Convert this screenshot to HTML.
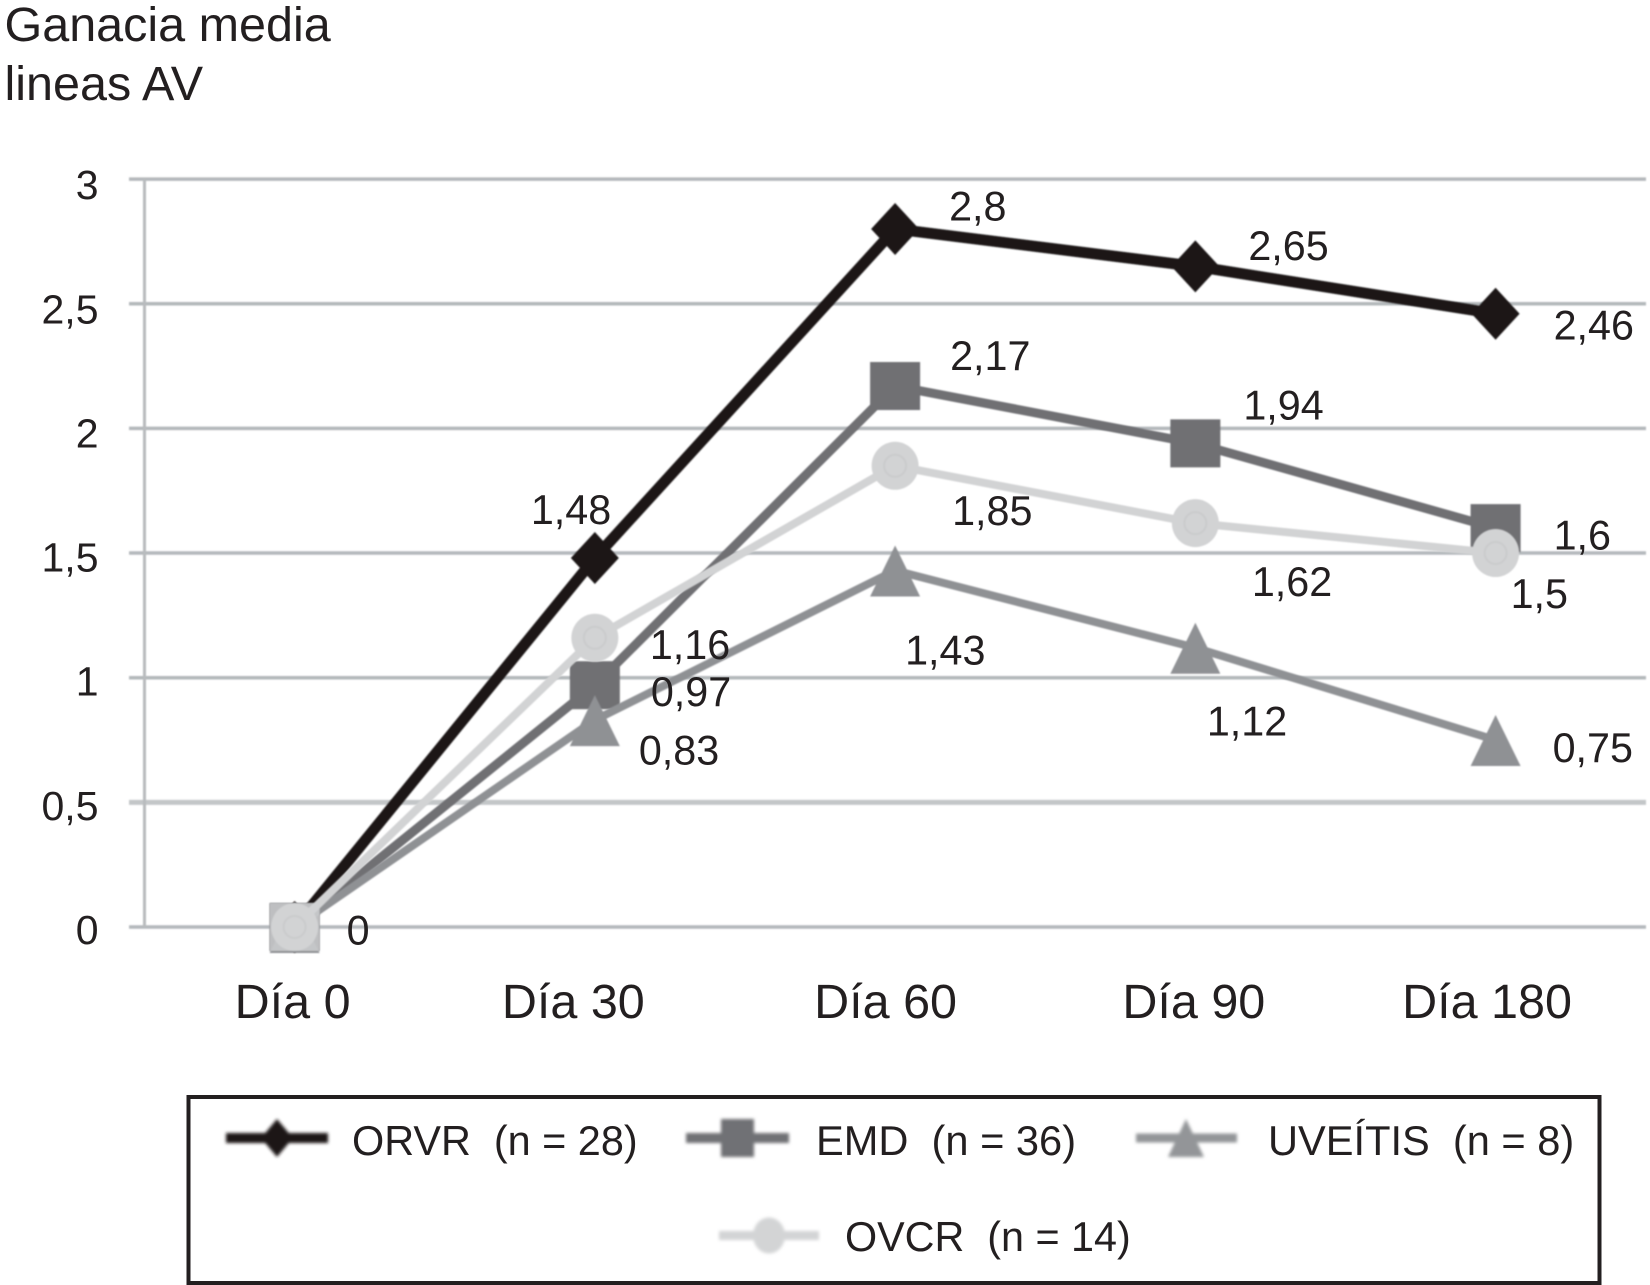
<!DOCTYPE html>
<html lang="es">
<head>
<meta charset="utf-8">
<title>Ganancia media de líneas AV</title>
<style>
  html, body { margin: 0; padding: 0; background: #ffffff; }
  svg { display: block; }
  text { font-family: "Liberation Sans", Arial, sans-serif; fill: #231f20; white-space: pre; }
</style>
</head>
<body>
<svg id="chart" xmlns="http://www.w3.org/2000/svg" width="1650" height="1285" viewBox="0 0 1650 1285">
  <defs>
    <filter id="soft" x="-5%" y="-5%" width="110%" height="110%" filterUnits="objectBoundingBox">
      <feGaussianBlur stdDeviation="0.9"/>
    </filter>
    <filter id="softer" x="-20%" y="-60%" width="140%" height="220%">
      <feGaussianBlur stdDeviation="1.6"/>
    </filter>
  </defs>
  <rect x="0" y="0" width="1650" height="1285" fill="#ffffff"/>
  <g>
    <text x="4.5" y="41" font-size="48.5">Ganacia media</text>
    <text x="4.5" y="100" font-size="48.5">lineas AV</text>
  </g>
  <g id="grid" filter="url(#soft)"></g>
  <g id="yLabels"></g>
  <g id="xLabels"></g>
  <g id="series"></g>
  <g id="values"></g>

  <g>
    <rect x="188.5" y="1097" width="1411" height="186" fill="#ffffff" stroke="#231f20" stroke-width="4"/>

    <g>
      <g filter="url(#softer)">
        <line x1="226" y1="1138" x2="328" y2="1138" stroke="#1a1718" stroke-width="10"/>
        <polygon points="277,1119 293,1138 277,1157 261,1138" fill="#1a1718"/>
      </g>
      <text x="352" y="1155" font-size="41.4">ORVR  (n = 28)</text>
    </g>

    <g>
      <g filter="url(#softer)">
        <line x1="686" y1="1138" x2="789" y2="1138" stroke="#707174" stroke-width="10"/>
        <rect x="721" y="1119" width="33" height="38" fill="#707174"/>
      </g>
      <text x="816" y="1155" font-size="41.6">EMD  (n = 36)</text>
    </g>

    <g>
      <g filter="url(#softer)">
        <line x1="1136" y1="1138" x2="1237" y2="1138" stroke="#939598" stroke-width="9"/>
        <polygon points="1186,1119 1204,1157 1168,1157" fill="#939598"/>
      </g>
      <text x="1268" y="1155" font-size="41.6">UVEÍTIS  (n = 8)</text>
    </g>

    <g>
      <g filter="url(#softer)">
        <line x1="719" y1="1235.5" x2="819" y2="1235.5" stroke="#d3d4d5" stroke-width="9"/>
        <ellipse cx="769" cy="1235.5" rx="16" ry="18" fill="#d3d4d5"/>
      </g>
      <text x="845" y="1251" font-size="41.3">OVCR  (n = 14)</text>
    </g>
  </g>
</svg>

<script>
const categories = ['Día 0', 'Día 30', 'Día 60', 'Día 90', 'Día 180'];
const yTickValues = [0, 0.5, 1, 1.5, 2, 2.5, 3];
const yTickLabels = ['0', '0,5', '1', '1,5', '2', '2,5', '3'];
const orvrValues = [0, 1.48, 2.8, 2.65, 2.46];
const emdValues = [0, 0.97, 2.17, 1.94, 1.6];
const uveitisValues = [0, 0.83, 1.43, 1.12, 0.75];
const ovcrValues = [0, 1.16, 1.85, 1.62, 1.5];

const SVG_NS = 'http://www.w3.org/2000/svg';

function xScale(i) { return 294.6 + 300.25 * i; }
function yScale(v) { return 927 - 249.3 * v; }
function tickLabelY(v) { return 944 - 248.3 * v; }
function valueText(v) { return String(v).replace('.', ','); }

function make(tag, attrs, parent) {
  const el = document.createElementNS(SVG_NS, tag);
  Object.keys(attrs).forEach(function (k) { el.setAttribute(k, attrs[k]); });
  parent.appendChild(el);
  return el;
}

const categoryNudge = [-2, -21.5, -9.5, -1.5, -8.6];

const seriesStyles = [
  { key: 'orvr', values: orvrValues, color: '#1a1718', width: 11, marker: 'diamond',
    labelNudge: [[52, 17.5], [-64, -34], [54, -8.5], [53, -6.5], [58, 26]] },
  { key: 'emd', values: emdValues, color: '#6f7073', width: 9, marker: 'square',
    labelNudge: [null, [56, 21], [55, -16], [48, -24], [58, 21.5]] },
  { key: 'uveitis', values: uveitisValues, color: '#8f9194', width: 8, marker: 'triangle',
    labelNudge: [null, [44, 44.5], [10, 94], [11.5, 87.5], [57, 22]] },
  { key: 'ovcr', values: ovcrValues, color: '#d2d3d4', width: 8, marker: 'circle',
    labelNudge: [null, [55, 21], [57, 59], [56.5, 73], [15, 55]] }
];

const grid = document.getElementById('grid');
yTickValues.forEach(function (v, i) {
  const y = yScale(v);
  const line = make('line', {
    x1: 129, x2: 1646, y1: y, y2: y,
    stroke: v === 0.5 ? '#c3c6c8' : '#b4b8bb',
    'stroke-width': v === 0.5 ? 5 : 3.5
  }, grid);
  
  
  const label = make('text', {
    x: 98.5, y: tickLabelY(v), 'font-size': 41, 'text-anchor': 'end'
  }, document.getElementById('yLabels'));
  label.textContent = yTickLabels[i];
  
  
});

const axisLine = make('line', {
  x1: 144.5, x2: 144.5, y1: yScale(3), y2: yScale(0), stroke: '#b8bbbd', 'stroke-width': 3
}, grid);



categories.forEach(function (c, i) {
  const label = make('text', {
    x: xScale(i) + categoryNudge[i], y: 1018, 'font-size': 48.5, 'text-anchor': 'middle'
  }, document.getElementById('xLabels'));
  label.textContent = c;
  
  
});

function drawMarker(kind, x, y, color, parent) {
  let el;
  if (kind === 'diamond') {
    el = make('polygon', {
      points: [x, y - 26, x + 24, y, x, y + 26, x - 24, y].join(' '), fill: color
    }, parent);
  } else if (kind === 'square') {
    el = make('rect', { x: x - 25, y: y - 24, width: 50, height: 48, fill: color }, parent);
  } else if (kind === 'triangle') {
    el = make('polygon', {
      points: [x, y - 25, x + 25, y + 26, x - 25, y + 26].join(' '), fill: color
    }, parent);
  } else {
    el = make('ellipse', { cx: x, cy: y, rx: 23.5, ry: 24, fill: color }, parent);
    const ring = make('ellipse', {
      cx: x, cy: y, rx: 11, ry: 11, fill: 'none', stroke: '#cacbcc', 'stroke-width': 2
    }, parent);
    
    
  }
  return el;
}

const seriesRoot = document.getElementById('series');
const valuesRoot = document.getElementById('values');

seriesStyles.forEach(function (s) {
  const g = make('g', { filter: 'url(#soft)' }, seriesRoot);
  
  

  const pts = s.values.map(function (v, i) { return xScale(i) + ',' + yScale(v); }).join(' ');
  const line = make('polyline', {
    points: pts, fill: 'none', stroke: s.color, 'stroke-width': s.width, 'stroke-linejoin': 'round'
  }, g);
  
  

  s.values.forEach(function (v, i) {
    const x = xScale(i);
    const y = yScale(v);
    if (s.key === 'ovcr' && i === 0) {
      const wash = make('rect', {
        x: x - 25, y: y - 24, width: 50, height: 48, fill: '#d2d3d4', 'fill-opacity': 0.8
      }, g);
      
      
    }
    const marker = drawMarker(s.marker, x, y, s.color, g);
    
    

    const nudge = s.labelNudge[i];
    if (nudge) {
      const t = make('text', { x: x + nudge[0], y: y + nudge[1], 'font-size': 41.3 }, valuesRoot);
      t.textContent = valueText(v);
      
      
    }
  });
});
</script>
</body>
</html>
